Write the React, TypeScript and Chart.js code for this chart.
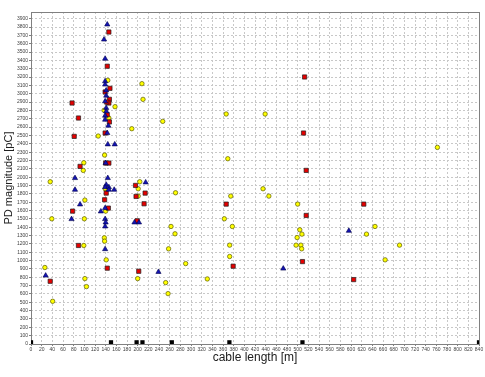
import React, { useEffect, useRef } from "react";
import { Chart, registerables } from "chart.js";

Chart.register(...registerables);

// Red squares
const redX = [146, 143, 148, 139, 147, 146, 142, 77, 143, 89, 147, 81, 139, 140, 146, 92, 196, 214, 197, 212, 141, 138, 78, 145, 199, 89, 143, 202, 36, 513, 511, 516, 366, 516, 509, 379, 624, 605];
const redY = [3740, 3330, 3065, 3021, 2933, 2889, 2900, 2889, 2749, 2709, 2662, 2489, 2529, 2169, 2169, 2129, 1901, 1809, 1769, 1681, 1809, 1729, 1593, 1629, 1477, 1181, 909, 872, 752, 3201, 2529, 2081, 1677, 1541, 988, 933, 1677, 772];

// Blue triangles
const blueX = [143, 137, 139, 139, 139, 141, 141, 141, 139, 141, 139, 139, 145, 143, 144, 157, 140, 82.5, 144, 82.5, 141, 139, 146, 146, 156, 215, 92, 131, 139, 76, 139, 140, 139, 194, 202.5, 139, 239, 27.5, 473, 596];
const blueY = [3830, 3650, 3420, 3150, 3110, 3040, 2977, 2830, 2909, 2789, 2737, 2689, 2617, 2529, 2393, 2393, 2169, 1989, 1989, 1849, 1909, 1880, 1880, 1849, 1849, 1937, 1673, 1589, 1629, 1497, 1497, 1457, 1409, 1457, 1457, 1137, 864, 820, 904, 1357];

// Yellow circles
const yellowX = [144, 208, 210, 157.5, 137, 146, 247, 189, 126, 138, 99, 98, 36, 139, 204, 201, 201, 101, 140, 39, 100, 262.5, 137.5, 138, 99, 258, 141, 26, 101, 200, 252.5, 104, 257, 40.6, 366, 439, 369, 435, 271, 374.5, 446, 500, 362.5, 377.5, 504, 270, 508, 499, 372.5, 497, 506, 507.5, 372.5, 290, 330.6, 762, 645, 629, 691, 664];
const yellowY = [3161, 3121, 2933, 2845, 2801, 2709, 2669, 2581, 2493, 2265, 2173, 2081, 1945, 1861, 1945, 1861, 1773, 1725, 1593, 1501, 1501, 1409, 1273, 1233, 1181, 1141, 1009, 917, 784, 784, 736, 688, 604, 512, 2757, 2757, 2221, 1861, 1813, 1773, 1773, 1677, 1501, 1409, 1369, 1321, 1317, 1276, 1185, 1185, 1185, 1141, 1049, 964, 780, 2357, 1409, 1317, 1185, 1009];

// Black markers along the cable (joints)
const markerX = [0, 150, 198, 209, 264, 372, 509, 840];
const markerY = [20, 20, 20, 20, 20, 20, 20, 20];

// Tick values
const xTicks = Array.from({ length: 43 }, (_, i) => i * 20);
const yTicks = Array.from({ length: 40 }, (_, i) => i * 100);

const toPts = (xs: number[], ys: number[]) => xs.map((x, i) => ({ x, y: ys[i] }));

const framePlugin = {
  id: "frame",
  beforeDatasetsDraw(chart: any) {
    const { ctx, chartArea } = chart;
    ctx.save();
    ctx.strokeStyle = "#808080";
    ctx.lineWidth = 1;
    ctx.strokeRect(
      Math.round(chartArea.left) + 0.5,
      Math.round(chartArea.top) + 0.5,
      Math.round(chartArea.right - chartArea.left),
      Math.round(chartArea.bottom - chartArea.top)
    );
    ctx.restore();
  },
};

export default function App() {
  const ref = useRef<HTMLCanvasElement>(null);

  useEffect(() => {
    document.body.style.margin = "0";
    if (!ref.current) return;
    const tickFont = { family: "'Liberation Sans', Arial, sans-serif", size: 5 };
    const chart = new Chart(ref.current, {
      type: "scatter",
      data: {
        datasets: [
          {
            label: "joints",
            data: toPts(markerX, markerY),
            pointStyle: "rect",
            radius: 3,
            backgroundColor: "#000000",
            borderColor: "#000000",
            borderWidth: 0,
          },
          {
            label: "blue",
            data: toPts(blueX, blueY),
            pointStyle: "triangle",
            radius: 3,
            backgroundColor: "#1414b4",
            borderColor: "#00004a",
            borderWidth: 0.6,
          },
          {
            label: "red",
            data: toPts(redX, redY),
            pointStyle: "rect",
            radius: 3,
            backgroundColor: "#e60000",
            borderColor: "#202020",
            borderWidth: 0.7,
          },
          {
            label: "yellow",
            data: toPts(yellowX, yellowY),
            pointStyle: "circle",
            radius: 2.2,
            backgroundColor: "#ffff00",
            borderColor: "#5a5a00",
            borderWidth: 0.7,
          },
        ],
      },
      options: {
        animation: false,
        responsive: false,
        events: [],
        layout: { padding: { top: 12, right: 6, left: 0, bottom: 0 } },
        plugins: { legend: { display: false }, tooltip: { enabled: false } },
        scales: {
          x: {
            type: "linear",
            min: 0,
            max: 840,
            afterBuildTicks: (s: any) => {
              s.ticks = xTicks.map((v) => ({ value: v }));
            },
            afterFit: (s: any) => {
              s.height = 33;
            },
            ticks: {
              font: tickFont,
              color: "#404040",
              autoSkip: false,
              maxRotation: 0,
              padding: 1,
              callback: (v: any) => String(v),
            },
            grid: { color: "#c8c8c8", tickLength: 2, tickColor: "#808080" },
            border: { display: false, dash: [2, 2] },
            title: {
              display: true,
              text: "cable length [m]",
              font: { family: "'Liberation Sans', Arial, sans-serif", size: 12 },
              color: "#202020",
              padding: { top: 0, bottom: 12 },
            },
          },
          y: {
            type: "linear",
            min: 0,
            max: 3980,
            afterBuildTicks: (s: any) => {
              s.ticks = yTicks.map((v) => ({ value: v }));
            },
            afterFit: (s: any) => {
              s.width = 31;
            },
            ticks: {
              font: tickFont,
              color: "#404040",
              autoSkip: false,
              padding: 1,
              callback: (v: any) => String(v),
            },
            grid: { color: "#c8c8c8", tickLength: 2, tickColor: "#808080" },
            border: { display: false, dash: [2, 2] },
            title: {
              display: true,
              text: "PD magnitude [pC]",
              font: { family: "'Liberation Sans', Arial, sans-serif", size: 11 },
              color: "#202020",
              padding: { top: 2, bottom: 0 },
            },
          },
        },
      },
      plugins: [framePlugin],
    });
    return () => chart.destroy();
  }, []);

  return (
    <div style={{ width: 485, height: 377 }}>
      <canvas ref={ref} width={485} height={377} style={{ display: "block" }} />
    </div>
  );
}
